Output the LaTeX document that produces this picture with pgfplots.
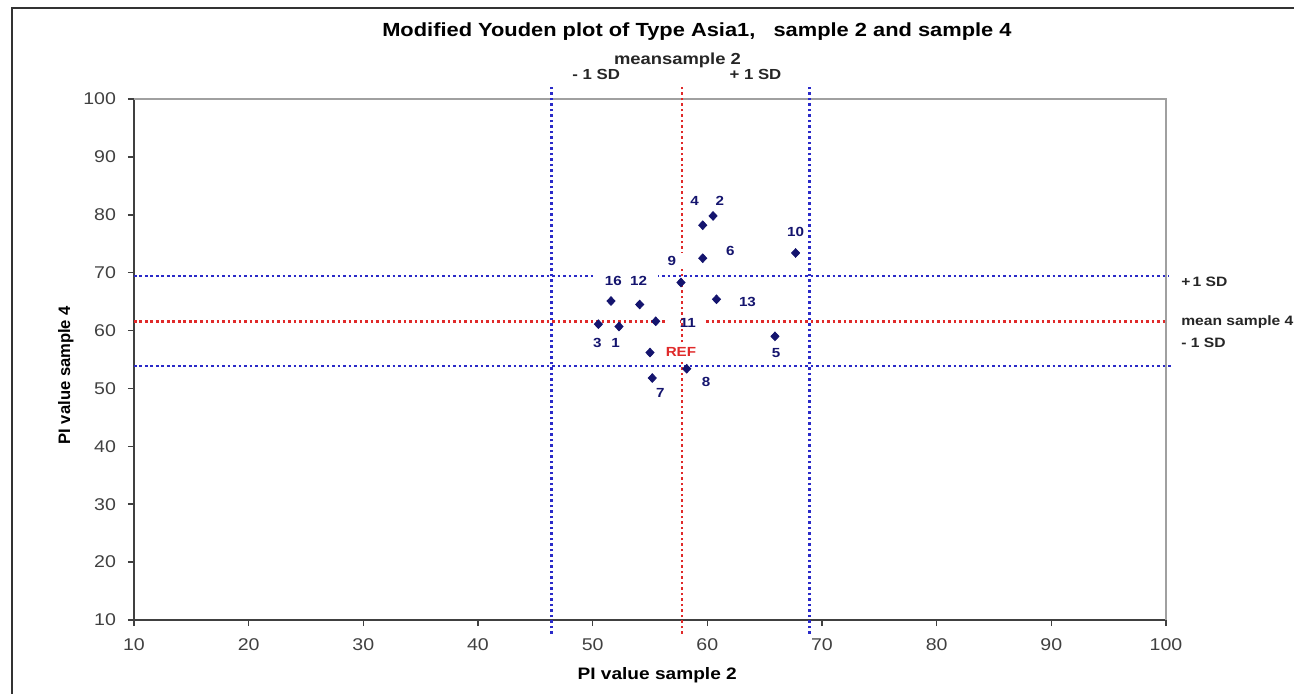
\documentclass[border=0pt]{standalone}
\usepackage{pgfplots}
\pgfplotsset{compat=1.18}
\usepackage{fontspec}
\setmainfont{Liberation Sans}[FakeStretch=1.15]
\newfontfamily\plainsans{Liberation Sans}
\definecolor{navy}{HTML}{14146E}
\definecolor{sdblue}{HTML}{2A2AC8}
\definecolor{meanred}{HTML}{E02A2A}
\definecolor{framegray}{HTML}{A0A0A0}
\definecolor{ticktext}{HTML}{404040}

\begin{document}
\begin{tikzpicture}[
  sdline/.style={line width=1.3pt, dash pattern=on 1.35pt off 1.4pt},
  ptlabel/.style={font=\fontsize{6.6}{8}\selectfont\bfseries, text=navy, fill=white, inner xsep=2pt, inner ysep=1.6pt},
  sdlabel/.style={font=\fontsize{7.3}{8}\selectfont\bfseries, text=black!85, inner sep=0pt},
  sidelabel/.style={font=\fontsize{6.8}{8}\selectfont\bfseries, text=black!85, anchor=west, inner sep=0pt}]
\useasboundingbox (-67pt,-36.5pt) rectangle (580pt,310pt);
\draw[line width=1pt, black!80] (-61pt,-40pt) -- (-61pt,306pt) -- (585pt,306pt);
\begin{axis}[
  scale only axis, width=516pt, height=260.5pt,
  xmin=10, xmax=100, ymin=10, ymax=100,
  xtick={10,20,...,100}, ytick={10,20,...,100},
  axis lines*=left, axis line style={-, black!75, line width=0.8pt},
  tick align=outside, major tick length=3pt, tick style={black!75, line width=0.8pt},
  tick label style={font=\fontsize{8.5}{9}\selectfont, text=ticktext},
  xticklabel style={yshift=-3pt},
  yticklabel style={xshift=-2.5pt},
  /pgf/number format/assume math mode=true,
  clip=false,
  title={Modified Youden plot of Type Asia1,\ \ \ sample 2 and sample 4},
  title style={font=\fontsize{9.5}{11}\selectfont\bfseries, at={(axis description cs:0.5455,1.106)}, anchor=center},
  xlabel={PI value sample 2}, ylabel={PI value sample 4},
  label style={font=\fontsize{8.3}{10}\selectfont\bfseries},
  xlabel style={at={(axis description cs:0.507,-0.105)}, anchor=center},
  ylabel style={font=\fontsize{8.3}{10}\selectfont\plainsans\bfseries, at={(axis description cs:-0.066,0.47)}, anchor=center},
]
\draw[framegray, line width=0.8pt] (rel axis cs:0,1) -- (rel axis cs:1,1) -- (rel axis cs:1,0);

% mean and +/- 1 SD lines
\addplot[sdline, sdblue] coordinates {(46.4,7.6) (46.4,102.1)};
\addplot[sdline, meanred] coordinates {(57.8,7.6) (57.8,102.1)};
\addplot[sdline, sdblue] coordinates {(68.9,7.6) (68.9,102.1)};
\addplot[sdline, sdblue] coordinates {(10,69.4) (100.2,69.4)};
\addplot[sdline, meanred] coordinates {(10,61.6) (100,61.6)};
\addplot[sdline, sdblue] coordinates {(10,53.9) (100.5,53.9)};

% the label boxes break the horizontal lines here
\fill[white] (axis cs:50.3,68.6) rectangle (axis cs:55.7,70.2);
\fill[white] (axis cs:56.6,60.9) rectangle (axis cs:57.6,62.3);
\fill[white] (axis cs:58.0,60.9) rectangle (axis cs:59.9,62.3);

% lab numbers
\node[ptlabel] at (axis cs:52.0,57.9) {1};
\node[ptlabel] at (axis cs:61.1,82.4) {2};
\node[ptlabel] at (axis cs:50.4,57.9) {3};
\node[ptlabel] at (axis cs:58.9,82.4) {4};
\node[ptlabel] at (axis cs:66.0,56.2) {5};
\node[ptlabel] at (axis cs:62.0,73.7) {6};
\node[ptlabel] at (axis cs:55.9,49.3) {7};
\node[ptlabel] at (axis cs:59.9,51.1) {8};
\node[ptlabel, inner xsep=3.5pt] at (axis cs:56.9,72.0) {9};
\node[ptlabel] at (axis cs:67.7,77.1) {10};
\node[ptlabel, fill=none] at (axis cs:58.3,61.4) {11};
\node[ptlabel] at (axis cs:54.0,68.5) {12};
\node[ptlabel] at (axis cs:63.5,64.9) {13};
\node[ptlabel] at (axis cs:51.8,68.5) {16};
\node[ptlabel, text=meanred, inner xsep=1.5pt] at (axis cs:57.7,56.3) {REF};

% laboratories
\addplot[only marks, mark=diamond*, mark size=2.7pt, navy, mark options={yscale=0.8}] table {
x     y
52.3  60.7
60.5  79.8
50.5  61.1
59.6  78.2
65.9  59.0
59.6  72.5
55.2  51.8
58.2  53.4
57.7  68.3
67.7  73.4
55.5  61.6
54.1  64.5
60.8  65.4
51.6  65.1
55.0  56.2
};

\node[sdlabel, font=\fontsize{8}{9}\selectfont\bfseries] at (axis cs:57.4,106.6) {meansample 2};
\node[sdlabel] at (axis cs:50.3,104.2) {- 1 SD};
\node[sdlabel] at (axis cs:64.2,104.2) {+ 1 SD};
\node[sidelabel] at (axis cs:101.3,68.4) {+\,1 SD};
\node[sidelabel] at (axis cs:101.3,61.5) {mean sample 4};
\node[sidelabel] at (axis cs:101.3,57.8) {- 1 SD};
\end{axis}
\end{tikzpicture}
\end{document}
